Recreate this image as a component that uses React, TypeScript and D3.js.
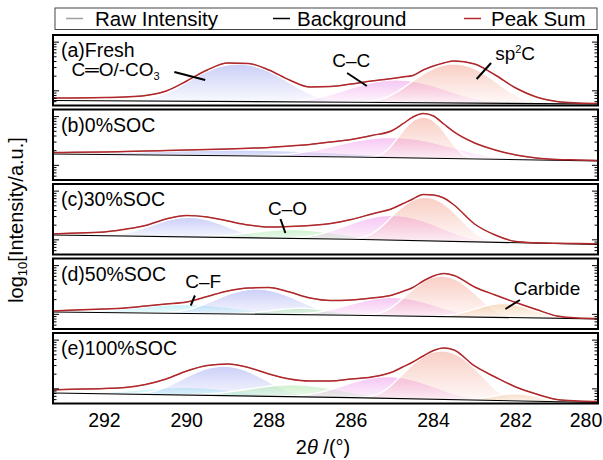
import React from 'react';
import * as d3 from 'd3';

// ---------- data ----------
const energy = [293.3, 293, 292, 291.5, 291, 290.5, 290, 289.5, 289, 288.5, 288, 287.5, 287, 286.5, 286, 285.5, 285, 284.75, 284.5, 284.25, 284, 283.75, 283.5, 283, 282.5, 282, 281.5, 281, 280.5, 280];

const sumFresh = [713, 713, 730, 747, 802, 992, 1593, 2680, 3730, 3643, 2680, 1670, 1200, 1228, 1382, 1593, 1792, 1924, 2065, 2680, 3238, 3730, 4100, 3560, 2115, 1144, 747, 604, 563, 550];
const sumSOC0 = [1835, 1840, 1879, 1920, 1970, 2015, 2065, 2115, 2165, 2240, 2325, 2495, 2680, 3015, 3394, 4100, 5195, 7060, 9830, 11600, 10310, 7060, 4838, 2876, 2065, 1631, 1415, 1318, 1287, 1257];
const sumSOC30 = [1318, 1350, 1450, 1650, 1970, 2680, 3161, 2945, 2437, 2017, 1835, 1879, 1970, 2165, 2616, 3394, 4402, 5500, 6897, 8530, 8335, 7230, 5195, 2115, 1257, 924, 870, 850, 841, 821];
const sumSOC50 = [1171, 1200, 1287, 1350, 1484, 1631, 1792, 2325, 3015, 3475, 3560, 2876, 2165, 1924, 1970, 2165, 2495, 2945, 3560, 4838, 6125, 6897, 6275, 3643, 2495, 1750, 1257, 924, 841, 821];
const sumSOC100 = [946, 969, 1016, 1066, 1228, 1593, 2325, 3015, 3238, 2743, 2017, 1593, 1450, 1450, 1593, 1750, 2218, 2810, 3560, 4726, 6125, 6897, 6275, 2945, 1750, 1092, 783, 604, 563, 550];

const bgEnergy = [293.3, 286, 280];
const bgFresh = [633, 585, 537];
const bgSOC0 = [1710, 1484, 1228];
const bgSOC30 = [1257, 1030, 802];
const bgSOC50 = [1117, 960, 805];
const bgSOC100 = [821, 660, 524];

// fitted components: [type, center (eV), height (a.u. above background), FWHM (eV)]
const peaksFresh: [string, number, number, number][] = [
  ['CO3', 288.75, 2950, 1.9],
  ['CC', 284.9, 1100, 2.2],
  ['sp2', 283.5, 3000, 1.6],
];
const peaksSOC0: [string, number, number, number][] = [
  ['CO3', 288.5, 500, 5.0],
  ['CC', 285.0, 2300, 2.6],
  ['sp2', 284.25, 8400, 0.9],
];
const peaksSOC30: [string, number, number, number][] = [
  ['CO3', 289.95, 1750, 1.7],
  ['CO', 287.4, 550, 2.2],
  ['CC', 285.0, 2200, 2.0],
  ['sp2', 284.2, 6500, 1.25],
];
const peaksSOC50: [string, number, number, number][] = [
  ['CF', 290.0, 550, 2.6],
  ['CO3', 288.3, 2300, 1.8],
  ['CO', 287.2, 350, 1.6],
  ['CC', 285.0, 1300, 2.0],
  ['sp2', 283.8, 5200, 1.3],
  ['carbide', 282.3, 800, 1.4],
];
const peaksSOC100: [string, number, number, number][] = [
  ['CF', 290.0, 330, 2.6],
  ['CO3', 289.1, 2200, 1.7],
  ['CO', 287.4, 520, 2.3],
  ['CC', 285.1, 1150, 2.0],
  ['sp2', 283.8, 5400, 1.35],
  ['carbide', 282.0, 220, 1.2],
];

const panelLabels = ['(a)Fresh', '(b)0%SOC', '(c)30%SOC', '(d)50%SOC', '(e)100%SOC'];
const xTicks = [292, 290, 288, 286, 284, 282, 280];
const yTicks = [600, 700, 800, 900, 1000, 2000, 3000, 4000, 5000, 6000, 7000, 8000, 9000, 10000];
const legendLabels = ['Raw Intensity', 'Background', 'Peak Sum'];

// ---------- styles ----------
const peakColors: Record<string, string> = {
  CF: '#a6ecf4',
  CO3: '#aab2f2',
  CO: '#b0eab0',
  CC: '#f0a4ec',
  sp2: '#f5b0a0',
  carbide: '#f2c69a',
};
const FONT = '"Liberation Sans", Arial, Helvetica, sans-serif';
const RED = '#b3272b';
const X_LEFT = 53;
const X_RIGHT = 598;
const PANEL_TOP = 35;
const PANEL_H = 70.5;
const PANEL_STEP = 74.5;

const panels = [
  { sum: sumFresh, bg: bgFresh, peaks: peaksFresh },
  { sum: sumSOC0, bg: bgSOC0, peaks: peaksSOC0 },
  { sum: sumSOC30, bg: bgSOC30, peaks: peaksSOC30 },
  { sum: sumSOC50, bg: bgSOC50, peaks: peaksSOC50 },
  { sum: sumSOC100, bg: bgSOC100, peaks: peaksSOC100 },
];

export default function App() {
  const x = d3.scaleLinear().domain([293.25, 280]).range([X_LEFT, X_RIGHT]);

  const renderPanel = (p: typeof panels[number], i: number) => {
    const top = PANEL_TOP + i * PANEL_STEP;
    const bottom = top + PANEL_H;
    const y = d3.scaleLog().domain([500, 14000]).range([bottom, top]);
    const bgLog = d3.scaleLinear().domain(bgEnergy).range(p.bg.map((v) => Math.log10(v)));
    const bgAt = (e: number) => Math.pow(10, bgLog(e));

    const line = d3
      .line<number>()
      .x((_, k) => x(energy[k]))
      .y((v) => y(v))
      .curve(d3.curveMonotoneX);

    const bgLine = d3
      .line<number>()
      .x((_, k) => x(bgEnergy[k]))
      .y((v) => y(v));

    const comps = p.peaks.map(([type, c, h, w], k) => {
      const lo = Math.max(280, c - 2.6 * w);
      const hi = Math.min(293.3, c + 2.6 * w);
      const es = d3.range(hi, lo - 0.001, -0.05);
      const g = (e: number) => h * Math.exp((-4 * Math.LN2 * (e - c) * (e - c)) / (w * w));
      const area = d3
        .area<number>()
        .x((e) => x(e))
        .y0((e) => y(bgAt(e)))
        .y1((e) => y(bgAt(e) + g(e)))
        .curve(d3.curveMonotoneX);
      const topLine = d3
        .line<number>()
        .x((e) => x(e))
        .y((e) => y(bgAt(e) + g(e)))
        .curve(d3.curveMonotoneX);
      return (
        <g key={k}>
          <path d={area(es) || ''} fill={`url(#grad-${type})`} />
          <path d={topLine(es) || ''} fill="none" stroke="#ffffff" strokeWidth={1.4} />
        </g>
      );
    });

    return (
      <g key={i}>
        <defs>
          <clipPath id={`clip-${i}`}>
            <rect x={X_LEFT} y={top} width={X_RIGHT - X_LEFT} height={PANEL_H} />
          </clipPath>
        </defs>
        <g clipPath={`url(#clip-${i})`}>
          {comps}
          <path d={line(p.sum) || ''} fill="none" stroke="#9a9a9a" strokeWidth={1} />
          <path d={bgLine(p.bg) || ''} fill="none" stroke="#000" strokeWidth={1.1} />
          <path d={line(p.sum) || ''} fill="none" stroke={RED} strokeWidth={1.5} />
        </g>
        {yTicks.map((t) => {
          const major = t === 1000 || t === 10000;
          const len = major ? 6 : 3.5;
          const yy = y(t);
          return (
            <g key={t}>
              <line x1={X_LEFT} x2={X_LEFT + len} y1={yy} y2={yy} stroke="#000" strokeWidth={1} />
              <line x1={X_RIGHT} x2={X_RIGHT - len} y1={yy} y2={yy} stroke="#000" strokeWidth={1} />
            </g>
          );
        })}
        <rect x={X_LEFT} y={top} width={X_RIGHT - X_LEFT} height={PANEL_H} fill="none" stroke="#000" strokeWidth={2} />
        <text x={61} y={top + 22} fontSize={19.5} fontFamily={FONT}>
          {panelLabels[i]}
        </text>
      </g>
    );
  };

  const pt = (i: number) => PANEL_TOP + i * PANEL_STEP;

  return (
    <svg width={603} height={460} style={{ position: 'absolute', left: 0, top: 0, background: '#fff' }} fontFamily={FONT}>
      <defs>
        {Object.entries(peakColors).map(([k, c]) => (
          <linearGradient key={k} id={`grad-${k}`} x1="0" y1="0" x2="0" y2="1">
            <stop offset="0" stopColor={c} stopOpacity={0.62} />
            <stop offset="1" stopColor={c} stopOpacity={0.06} />
          </linearGradient>
        ))}
      </defs>
      <rect x={0} y={0} width={603} height={460} fill="#fff" />

      {/* legend */}
      <rect x={55} y={8} width={542} height={21.5} fill="#fff" stroke="#444" strokeWidth={1} />
      {[
        { x0: 66, color: '#a0a0a0', tx: 95 },
        { x0: 273, color: '#000', tx: 297 },
        { x0: 464, color: RED, tx: 491 },
      ].map((d, k) => (
        <g key={k}>
          <line x1={d.x0} x2={d.x0 + 17} y1={18.5} y2={18.5} stroke={d.color} strokeWidth={1.5} />
          <text x={d.tx} y={25.5} fontSize={20.5}>
            {legendLabels[k]}
          </text>
        </g>
      ))}

      {panels.map(renderPanel)}

      {/* annotations */}
      <g fontSize={19}>
        <text x={x(292.8)} y={pt(0) + 41}>
          C═O/-CO<tspan dy={4} fontSize={11}>3</tspan>
        </text>
        <line x1={x(290.3)} y1={pt(0) + 37} x2={x(289.55)} y2={pt(0) + 45} stroke="#000" strokeWidth={2} />
        <text x={x(286.0)} y={pt(0) + 32} textAnchor="middle">C–C</text>
        <line x1={x(286.1)} y1={pt(0) + 38} x2={x(285.62)} y2={pt(0) + 51} stroke="#000" strokeWidth={2} />
        <text x={x(282.5)} y={pt(0) + 25}>
          sp<tspan dy={-7} fontSize={11}>2</tspan>
          <tspan dy={7}>C</tspan>
        </text>
        <line x1={x(282.6)} y1={pt(0) + 28} x2={x(282.95)} y2={pt(0) + 44} stroke="#000" strokeWidth={2} />

        <text x={x(287.55)} y={pt(2) + 31} textAnchor="middle">C–O</text>
        <line x1={x(287.72)} y1={pt(2) + 35} x2={x(287.6)} y2={pt(2) + 49} stroke="#000" strokeWidth={2} />

        <text x={x(289.6)} y={pt(3) + 29} textAnchor="middle">C–F</text>
        <line x1={x(289.8)} y1={pt(3) + 37} x2={x(289.9)} y2={pt(3) + 47} stroke="#000" strokeWidth={2} />
        <text x={x(282.05)} y={pt(3) + 36}>Carbide</text>
        <line x1={x(281.9)} y1={pt(3) + 41.5} x2={x(282.25)} y2={pt(3) + 50.5} stroke="#000" strokeWidth={2} />
      </g>

      {/* x axis labels */}
      {xTicks.map((t) => (
        <text key={t} x={Math.min(x(t), 603 - 17)} y={427} fontSize={19.5} textAnchor="middle">
          {t}
        </text>
      ))}
      <text x={323} y={454} fontSize={20} textAnchor="middle">
        2<tspan fontStyle="italic">θ</tspan> /(°)
      </text>

      {/* y axis label */}
      <text transform="translate(23,220) rotate(-90)" fontSize={20} textAnchor="middle">
        log<tspan dy={4} fontSize={13}>10</tspan>
        <tspan dy={-4}>[Intensity/a.u.]</tspan>
      </text>
    </svg>
  );
}
